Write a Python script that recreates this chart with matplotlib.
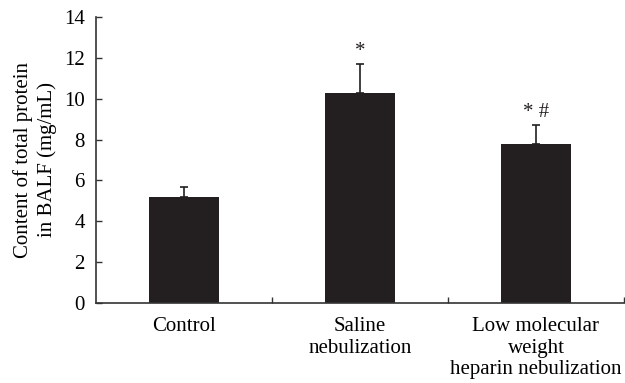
import matplotlib.pyplot as plt

# Data
groups = ['Control', 'Saline\nnebulization', 'Low molecular\nweight\nheparin nebulization']
means = [5.2, 10.3, 7.8]
errors = [0.5, 1.4, 0.9]
marks = ['', '*', '* #']

plt.rcParams['font.family'] = ['Liberation Serif', 'DejaVu Serif']

fig = plt.figure(figsize=(6.25, 3.83), dpi=100)
ax = fig.add_axes([0.1536, 0.2089, 0.8448, 0.7467])

x = list(range(len(groups)))
bar_color = '#231f20'
ax.bar(x, means, width=0.40, color=bar_color, zorder=2)
ax.errorbar(x, means, yerr=[[0] * len(errors), errors], fmt='none',
            ecolor=bar_color, elinewidth=1.2, capsize=3, capthick=1.2, zorder=3)

# Significance marks above error bars
for xi, m, e, s in zip(x, means, errors, marks):
    if s:
        ax.text(xi, m + e + 0.15, s, ha='center', va='bottom', fontsize=15, color=bar_color)

ax.set_xlim(-0.5, 2.5)
ax.set_ylim(0, 14)
ax.set_yticks(range(0, 15, 2))
ax.set_xticks(x)
ax.set_xticklabels(groups, fontsize=15, linespacing=1.2)
ax.set_xticks([0.5, 1.5, 2.5], minor=True)

ax.tick_params(axis='x', which='major', length=0, pad=10)
ax.tick_params(axis='x', which='minor', direction='in', length=4, width=1, color='#333333')
ax.tick_params(axis='y', direction='in', length=4, width=1, labelsize=15, pad=8, color='#333333')

ax.spines['top'].set_visible(False)
ax.spines['right'].set_visible(False)
ax.spines['left'].set_color('#333333')
ax.spines['bottom'].set_color('#333333')
ax.spines['left'].set_linewidth(1.2)
ax.spines['bottom'].set_linewidth(1.2)

ax.set_ylabel('Content of total protein\nin BALF (mg/mL)', fontsize=15, linespacing=1.3, labelpad=5)

fig.savefig('out.png', dpi=100)
